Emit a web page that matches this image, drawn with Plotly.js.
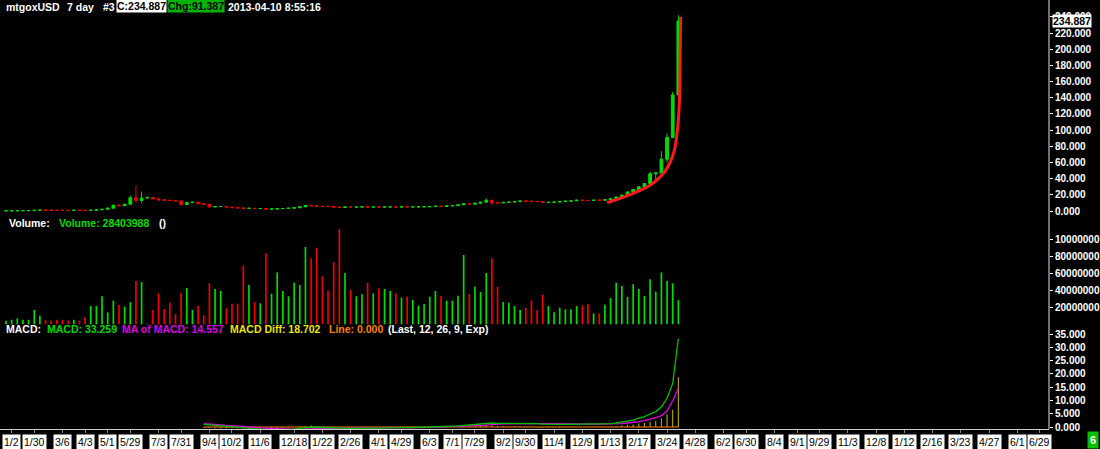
<!DOCTYPE html>
<html>
<head>
<meta charset="utf-8">
<script src="https://cdn.plot.ly/plotly-3.0.1.min.js"></script>
<style>html,body{margin:0;padding:0;background:#000;}#chart{width:1100px;height:449px;}</style>
</head>
<body>
<div id="chart"></div>
<script>
// ---- DATA (weekly bars, mtgoxUSD, first week starting 2010-12-26) ----
const firstWeek = '2010-12-26';
const open = [0.25,0.30,0.32,0.39,0.41,0.44,0.90,1.05,0.95,0.86,0.84,0.82,0.78,0.86,0.78,0.70,0.98,1.55,2.10,3.50,
  7.20,6.50,8.40,16.4,13.0,16.0,16.8,14.9,13.8,13.3,12.9,12.5,8.0,10.5,10.9,9.0,8.2,5.0,5.5,5.6,
  4.8,4.2,3.8,3.2,3.4,3.0,3.1,2.3,2.5,2.9,3.1,3.5,4.1,5.2,6.7,6.4,5.9,5.7,5.5,4.8,
  4.4,5.0,4.8,4.9,5.2,4.9,4.95,4.85,5.0,5.1,5.0,5.1,5.05,5.1,5.15,5.25,5.45,5.9,5.6,6.4,
  6.6,7.6,8.8,8.4,9.6,10.9,13.3,10.2,10.0,10.6,11.0,11.6,12.4,12.2,11.9,11.7,10.4,10.8,11.0,11.7,
  12.2,12.5,13.4,13.2,13.0,13.4,13.3,14.0,15.2,17.3,19.6,23.6,26.6,30.0,34.0,46.0,47.0,64.0,91.0,143.5];
const high = [0.30,0.33,0.40,0.42,0.45,0.95,1.10,1.08,0.98,0.92,0.90,0.86,0.90,0.88,0.80,1.00,1.60,2.20,3.90,7.50,
  8.50,8.90,18.9,31.9,24.0,17.5,17.2,16.5,14.2,13.6,13.2,12.8,11.5,11.5,11.2,9.3,8.6,6.0,6.2,5.8,
  5.0,4.4,4.0,3.6,3.5,3.3,3.2,2.6,3.0,3.2,3.6,4.2,5.3,7.2,7.0,6.5,6.0,5.8,5.6,5.0,
  5.2,5.1,5.0,5.3,5.3,5.0,5.0,5.1,5.2,5.2,5.2,5.15,5.2,5.2,5.3,5.5,6.0,6.8,6.5,6.7,
  7.7,9.0,9.1,10.0,11.0,15.4,13.6,11.0,10.8,11.2,11.8,12.5,12.7,12.3,12.0,11.8,10.9,11.1,11.9,12.4,
  12.6,13.5,13.6,13.4,13.5,13.6,14.2,15.5,17.8,20.0,24.0,27.0,30.5,34.5,48.4,48.0,74.0,95.7,147.0,242.0];
const low = [0.24,0.29,0.31,0.37,0.40,0.43,0.85,0.90,0.80,0.80,0.80,0.75,0.76,0.76,0.67,0.69,0.96,1.50,2.00,3.40,
  5.50,6.20,8.20,10.5,9.5,15.5,14.5,12.8,13.2,12.9,12.5,7.0,7.5,10.0,8.5,7.8,4.5,4.8,5.2,4.5,
  4.0,3.6,3.0,3.1,2.9,2.9,2.0,2.2,2.4,2.8,3.0,3.4,4.0,5.0,6.2,5.6,5.6,5.4,4.4,4.2,
  4.3,4.7,4.7,4.8,4.8,4.8,4.8,4.8,4.9,4.9,4.9,5.0,5.0,5.05,5.1,5.2,5.4,5.2,5.5,6.3,
  6.5,7.5,8.0,8.3,9.4,10.8,7.1,9.8,9.9,10.5,10.9,11.5,12.0,11.7,11.5,10.0,10.3,10.7,10.9,11.6,
  12.0,12.4,12.9,12.9,12.9,13.2,13.1,13.8,15.0,17.0,19.4,23.0,26.0,29.5,32.0,36.5,46.5,60.0,90.0,142.0];
const close = [0.30,0.32,0.39,0.41,0.44,0.90,1.05,0.95,0.86,0.84,0.82,0.78,0.86,0.78,0.70,0.98,1.55,2.10,3.50,7.20,
  6.50,8.40,16.4,13.0,16.0,16.8,14.9,13.8,13.3,12.9,12.5,8.0,10.5,10.9,9.0,8.2,5.0,5.5,5.6,4.8,
  4.2,3.8,3.2,3.4,3.0,3.1,2.3,2.5,2.9,3.1,3.5,4.1,5.2,6.7,6.4,5.9,5.7,5.5,4.8,4.4,
  5.0,4.8,4.9,5.2,4.9,4.95,4.85,5.0,5.1,5.0,5.1,5.05,5.1,5.15,5.25,5.45,5.9,5.6,6.4,6.6,
  7.6,8.8,8.4,9.6,10.9,13.3,10.2,10.0,10.6,11.0,11.6,12.4,12.2,11.9,11.7,10.4,10.8,11.0,11.7,12.2,
  12.5,13.4,13.2,13.0,13.4,13.3,14.0,15.2,17.3,19.6,23.6,26.6,30.0,34.0,46.0,47.0,64.0,91.0,143.5,234.887];
const volume = [4.2,5.3,7.0,5.3,5.3,16.8,10.0,5.3,4.3,5.3,5.3,4.3,5.3,4.3,8.6,21.5,21.5,33.0,14.0,27.8,
  22.7,20.8,25.9,51.0,49.7,0.6,16.8,36.4,18.0,25.5,12.0,37.0,42.7,16.8,21.9,10.6,48.2,41.5,39.2,18.8,
  24.3,24.3,68.9,46.2,25.9,24.7,83.5,36.0,61.1,39.2,33.0,48.9,46.2,90.9,77.6,90.1,56.4,39.6,73.3,111.7,
  60.3,40.4,33.0,35.3,48.9,36.4,42.3,41.5,39.2,36.4,31.3,32.5,28.6,21.9,23.9,32.5,39.2,33.3,27.8,27.8,
  33.7,81.5,35.6,44.2,37.9,60.3,77.6,44.2,26.2,25.5,21.5,16.8,19.5,28.2,16.8,34.8,21.5,14.1,19.5,17.6,
  17.6,21.5,22.3,23.5,12.9,12.9,23.1,30.9,48.9,45.0,32.2,47.0,41.5,33.3,52.9,38.4,61.1,51.0,48.2,28.403988]; // millions
// MACD study, drawn from week 35 on
const macdStart = 35;
const macd = [1.0,0.8,0.5,0.3,0.1,0.0,
  -0.2,-0.4,-0.6,-0.8,-1.0,-1.1,-1.2,-1.2,-1.1,-1.0,
  -0.8,-0.5,-0.2,0.0,-0.1,-0.2,-0.3,-0.4,-0.5,-0.5,
  -0.5,-0.5,-0.4,-0.4,-0.4,-0.4,-0.3,-0.3,-0.3,-0.2,
  -0.2,-0.2,-0.1,-0.1,0.0,0.1,0.1,0.2,0.3,0.4,
  0.6,0.8,1.0,1.2,1.5,1.5,1.4,1.4,1.4,1.5,
  1.5,1.5,1.4,1.3,1.1,1.0,1.0,1.0,1.0,1.0,
  1.1,1.1,1.1,1.1,1.1,1.1,1.25,1.5,1.9,2.3,
  2.6,3.3,3.9,4.9,5.8,7.6,10.8,16.4,33.259];
const signal = [1.3,1.2,1.0,0.8,0.6,0.5,
  0.35,0.2,0.05,-0.1,-0.3,-0.45,-0.6,-0.7,-0.8,-0.85,
  -0.85,-0.8,-0.7,-0.55,-0.45,-0.4,-0.4,-0.4,-0.4,-0.4,
  -0.45,-0.45,-0.45,-0.45,-0.4,-0.4,-0.4,-0.35,-0.35,-0.3,
  -0.3,-0.25,-0.2,-0.2,-0.15,-0.1,-0.05,0.0,0.1,0.15,
  0.25,0.35,0.5,0.6,0.8,0.95,1.05,1.15,1.2,1.25,
  1.3,1.35,1.35,1.35,1.3,1.25,1.2,1.15,1.1,1.1,
  1.1,1.1,1.1,1.1,1.1,1.1,1.1,1.2,1.3,1.5,
  1.7,2.0,2.4,2.9,3.5,4.3,6.0,9.9,14.557];
const macdDiff = [-0.3,-0.4,-0.5,-0.5,-0.5,-0.5,
  -0.55,-0.6,-0.65,-0.7,-0.7,-0.65,-0.6,-0.5,-0.3,-0.15,
  0.05,0.3,0.5,0.55,0.35,0.2,0.1,0.0,-0.1,-0.1,
  -0.05,-0.05,0.05,0.05,0.0,0.0,0.1,0.05,0.05,0.1,
  0.1,0.05,0.1,0.1,0.15,0.2,0.15,0.2,0.2,0.25,
  0.35,0.45,0.5,0.6,0.7,0.55,0.35,0.25,0.2,0.25,
  0.2,0.15,0.05,-0.05,-0.2,-0.25,-0.2,-0.15,-0.1,-0.1,
  0.0,0.0,0.0,0.0,0.0,0.0,0.15,0.3,0.6,0.8,
  0.9,1.3,1.5,2.0,2.3,3.3,4.8,6.5,18.702];
// hand-drawn red curve on the price pane (week index, price)
const curveWeek = [106.4,108.7,111.0,113.4,115.2,116.6,117.6,118.3,118.7,119.0,119.2,119.3,119.4];
const curvePrice = [10.3,15.7,21.9,29.3,38.3,48.6,61.0,75.4,91.9,112.4,137.1,178.3,240];
// date axis labels
const tickDates = ['2011-01-02','2011-01-30','2011-03-06','2011-04-03','2011-05-01','2011-05-29','2011-07-03','2011-07-31','2011-09-04','2011-10-02','2011-11-06','2011-12-18','2012-01-22','2012-02-26','2012-04-01','2012-04-29','2012-06-03','2012-07-01','2012-07-29','2012-09-02','2012-09-30','2012-11-04','2012-12-09','2013-01-13','2013-02-17','2013-03-24','2013-04-28','2013-06-02','2013-06-30','2013-08-04','2013-09-01','2013-09-29','2013-11-03','2013-12-08','2014-01-12','2014-02-16','2014-03-23','2014-04-27','2014-06-01','2014-06-29'];
const tickText = ['1/2','1/30','3/6','4/3','5/1','5/29','7/3','7/31','9/4','10/2','11/6','12/18','1/22','2/26','4/1','4/29','6/3','7/1','7/29','9/2','9/30','11/4','12/9','1/13','2/17','3/24','4/28','6/2','6/30','8/4','9/1','9/29','11/3','12/8','1/12','2/16','3/23','4/27','6/1','6/29'];
const priceTicks = [0,20,40,60,80,100,120,140,160,180,200,220,240];
const volTicks = [20e6,40e6,60e6,80e6,100e6];
const volTickText = ['20000000','40000000','60000000','80000000','10000000'];
const macdTicks = [0,5,10,15,20,25,30,35];
const lastClose = 234.887, change = 91.387;

// ---- build ----
const WEEK = 7*864e5;
const t0 = Date.parse(firstWeek + 'T00:00:00Z');
const wk = w => t0 + w*WEEK;
const dates = open.map((_, i) => new Date(wk(i)).toISOString().slice(0,10));
const mDates = dates.slice(macdStart);
const GREEN = '#00dc00', RED = '#f00000';
const volColors = open.map((o, i) => close[i] >= o ? GREEN : RED);

const traces = [
  {type:'candlestick', x:dates, open, high, low, close, xaxis:'x', yaxis:'y',
   whiskerwidth:0,
   increasing:{line:{color:GREEN,width:1}, fillcolor:GREEN},
   decreasing:{line:{color:RED,width:1}, fillcolor:RED}, hoverinfo:'skip'},
  {type:'scatter', mode:'lines', x:curveWeek.map(w => wk(w)), y:curvePrice, xaxis:'x', yaxis:'y',
   line:{color:'#ff1a1a', width:3, shape:'spline'}, hoverinfo:'skip'},
  {type:'bar', x:dates, y:volume.map(v => v*1e6), xaxis:'x', yaxis:'y2',
   marker:{color:volColors}, width:0.3*WEEK, hoverinfo:'skip'},
  {type:'bar', x:mDates, y:macdDiff, xaxis:'x', yaxis:'y3', marker:{color:'#c8b400'}, width:0.18*WEEK, hoverinfo:'skip'},
  {type:'scatter', mode:'lines', x:[mDates[0], mDates[mDates.length-1]], y:[0,0], xaxis:'x', yaxis:'y3',
   line:{color:'#ff7f00', width:1}, hoverinfo:'skip'},
  {type:'scatter', mode:'lines', x:mDates, y:signal, xaxis:'x', yaxis:'y3', line:{color:'#e000e0', width:1.3}, hoverinfo:'skip'},
  {type:'scatter', mode:'lines', x:mDates, y:macd, xaxis:'x', yaxis:'y3', line:{color:'#00c000', width:1.3}, hoverinfo:'skip'}
];

const PW = 1049, PH = 429;
const px = v => v/PW, py = v => (PH - v)/PH;
const FONT = 'Liberation Sans, Arial, sans-serif';
const tf = {family:FONT, size:10, color:'#ffffff', weight:'bold'};
const yBase = {side:'right', anchor:'x', showgrid:false, zeroline:false, showline:false,
  ticks:'outside', ticklen:3, tickcolor:'#ffffff', tickfont:tf, fixedrange:true};

const ann = [];
function txt(x, y, text, color, opts) {
  ann.push(Object.assign({xref:'paper', yref:'paper', x:px(x), y:py(y), xanchor:'left', yanchor:'middle',
    text, showarrow:false, font:{family:FONT, size:10.5, color, weight:'bold'}}, opts || {}));
}
// header
txt(4, 7, 'mtgoxUSD', '#fff');
txt(65, 7, '7 day', '#fff');
txt(101, 7, '#3', '#fff');
txt(116, 6.5, 'C:' + lastClose.toFixed(3), '#000', {bgcolor:'#ffffff', borderpad:0});
txt(167, 6.5, 'Chg:' + change.toFixed(3), '#000', {bgcolor:'#00b400', borderpad:0});
txt(226, 7, '2013-04-10 8:55:16', '#fff');
// volume title
txt(7, 223, 'Volume:', '#fff');
txt(57, 223, 'Volume: ' + Math.round(volume[volume.length-1]*1e6), GREEN);
txt(157, 223, '()', '#fff');
// MACD title
txt(4, 329, 'MACD:', '#fff');
txt(45, 329, 'MACD: ' + macd[macd.length-1].toFixed(3), '#00d800');
txt(120, 329, 'MA of MACD: ' + signal[signal.length-1].toFixed(3), '#e000e0');
txt(228, 329, 'MACD Diff: ' + macdDiff[macdDiff.length-1].toFixed(3), '#e8e800');
txt(327, 329, 'Line: 0.000', '#ff8000');
txt(386, 329, '(Last, 12, 26, 9, Exp)', '#fff');
// last price box
ann.push({xref:'paper', yref:'y', x:1, y:lastClose, xanchor:'left', yanchor:'middle', xshift:3,
  text:lastClose.toFixed(3), showarrow:false, bgcolor:'#ffffff', borderpad:0,
  font:{family:FONT, size:10.5, color:'#000', weight:'bold'}});
// date labels
tickDates.forEach((d, i) => ann.push({xref:'x', yref:'paper', x:d, y:py(442), xanchor:'center', yanchor:'middle',
  text:tickText[i], showarrow:false, bgcolor:'#ffffff', borderpad:1,
  font:{family:FONT, size:10.5, color:'#000'}}));
// page number box
ann.push({xref:'paper', yref:'paper', x:px(1093), y:py(440), xanchor:'center', yanchor:'middle', text:'6',
  showarrow:false, bgcolor:'#00c000', borderpad:2, font:{family:FONT, size:11, color:'#fff', weight:'bold'}});

const layout = {
  width:1100, height:449, margin:{l:0, r:51, t:0, b:20, pad:0},
  paper_bgcolor:'#000', plot_bgcolor:'#000', showlegend:false, hovermode:false, barmode:'overlay',
  xaxis:{type:'date', anchor:'y3', range:[wk(-1.06), wk(184.6)], showgrid:false, zeroline:false,
    showline:true, linecolor:'#d0d0d0', linewidth:1, ticks:'outside', ticklen:3, tickcolor:'#808080',
    tickvals:tickDates, showticklabels:false, rangeslider:{visible:false}, fixedrange:true},
  yaxis:Object.assign({}, yBase, {domain:[py(220), 1], range:[-11.12, 260.8], tickvals:priceTicks, tickformat:'.3f'}),
  yaxis2:Object.assign({}, yBase, {domain:[py(326), py(226)], range:[-2.0e6, 115.65e6], tickvals:volTicks, ticktext:volTickText}),
  yaxis3:Object.assign({}, yBase, {domain:[0, py(330)], range:[-0.753, 36.51], tickvals:macdTicks, tickformat:'.3f'}),
  shapes:[{type:'line', xref:'paper', yref:'paper', x0:1, x1:1, y0:0, y1:1, line:{color:'#e0e0e0', width:1}}],
  annotations:ann
};
Plotly.newPlot('chart', traces, layout, {staticPlot:true, displayModeBar:false});
</script>
</body>
</html>
